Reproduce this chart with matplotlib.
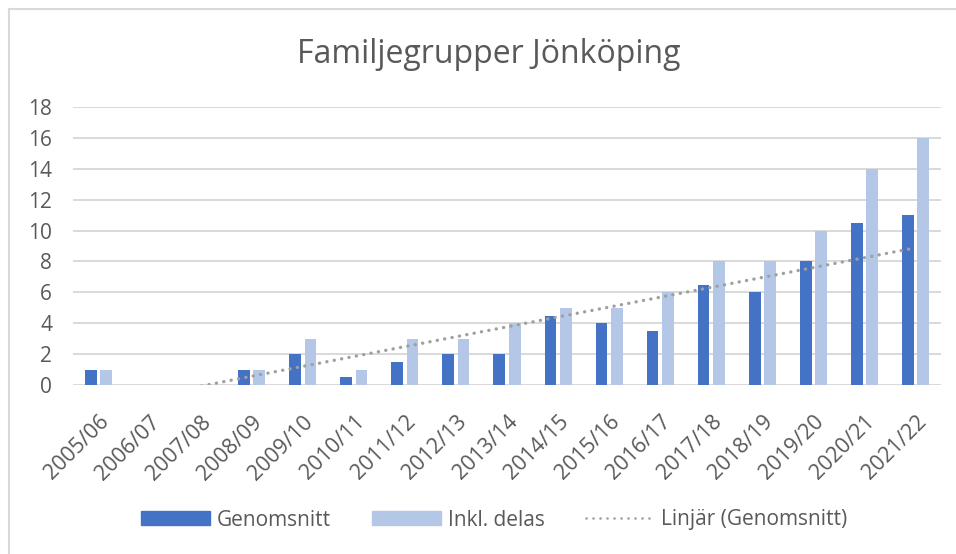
import matplotlib
matplotlib.use("Agg")
import matplotlib.pyplot as plt
import numpy as np
from matplotlib.lines import Line2D

categories = ["2005/06", "2006/07", "2007/08", "2008/09", "2009/10", "2010/11",
              "2011/12", "2012/13", "2013/14", "2014/15", "2015/16", "2016/17",
              "2017/18", "2018/19", "2019/20", "2020/21", "2021/22"]
genomsnitt = [1, 0, 0, 1, 2, 0.5, 1.5, 2, 2, 4.5, 4, 3.5, 6.5, 6, 8, 10.5, 11]
inkl_delas = [1, 0, 0, 1, 3, 1, 3, 3, 4, 5, 5, 6, 8, 8, 10, 14, 16]
yticks = [0, 2, 4, 6, 8, 10, 12, 14, 16, 18]

DARK = "#4472C4"
LIGHT = "#B4C7E7"
TEXT = "#595959"
GRID = "#D9D9D9"
TREND = "#A0A0A0"

plt.rcParams['font.family'] = ['Open Sans', 'DejaVu Sans']

W, H = 956, 554
fig = plt.figure(figsize=(W / 100, H / 100), dpi=100)
ax = fig.add_axes([73 / W, 1 - 385 / H, (941 - 73) / W, (385 - 107) / H])

x = np.arange(len(categories))
bw = 0.23
off = 0.15
ax.bar(x - off, genomsnitt, bw, color=DARK, label="Genomsnitt", zorder=3)
ax.bar(x + off, inkl_delas, bw, color=LIGHT, label="Inkl. delas", zorder=3)

# linear trendline of Genomsnitt
coef = np.polyfit(x, genomsnitt, 1)
xt = np.linspace(x[0], x[-1], 400)
yt = np.polyval(coef, xt)
ax.plot(xt, yt, color=TREND, linestyle=(0, (0.05, 2.2)), linewidth=2.4,
        dash_capstyle="round", zorder=4)

ax.set_xlim(-0.5, len(categories) - 0.5)
ax.set_ylim(0, 18)
ax.set_yticks(yticks)
ax.set_yticklabels([str(v) for v in yticks], color=TEXT, fontsize=15)
ax.set_xticks(x)
ax.set_xticklabels(categories, rotation=45, ha="right", rotation_mode="anchor",
                   color=TEXT, fontsize=15.5)
ax.tick_params(axis="both", length=0)
ax.tick_params(axis="y", pad=15)
ax.tick_params(axis="x", pad=19)
ax.grid(axis="y", color=GRID, linewidth=1.4, zorder=0)
for s in ax.spines.values():
    s.set_visible(False)

fig.text(489 / W, 1 - 54 / H, "Familjegrupper Jönköping", ha="center", va="center",
         fontsize=23, color=TEXT)

handles = [
    plt.Rectangle((0, 0), 1, 1, color=DARK),
    plt.Rectangle((0, 0), 1, 1, color=LIGHT),
    Line2D([0], [0], color=TREND, linestyle=(0, (0.05, 2.6)), linewidth=1.9,
           dash_capstyle="round"),
]
labels = ["Genomsnitt", "Inkl. delas", "Linjär (Genomsnitt)"]
leg = fig.legend(handles, labels, loc="center", bbox_to_anchor=(494.5 / W, 1 - 520 / H),
                 ncol=3, frameon=False, fontsize=15, handlelength=3.27, handleheight=0.67,
                 columnspacing=2.0, handletextpad=0.34, borderpad=0, borderaxespad=0)
for t in leg.get_texts():
    t.set_color(TEXT)

# chart border (top and left visible)
fig.add_artist(Line2D([9 / W, 9 / W], [0, 1 - 9 / H], color=GRID, linewidth=1.5))
fig.add_artist(Line2D([9 / W, 1], [1 - 9 / H, 1 - 9 / H], color=GRID, linewidth=1.5))

fig.savefig("out.png", dpi=100, facecolor="white")
